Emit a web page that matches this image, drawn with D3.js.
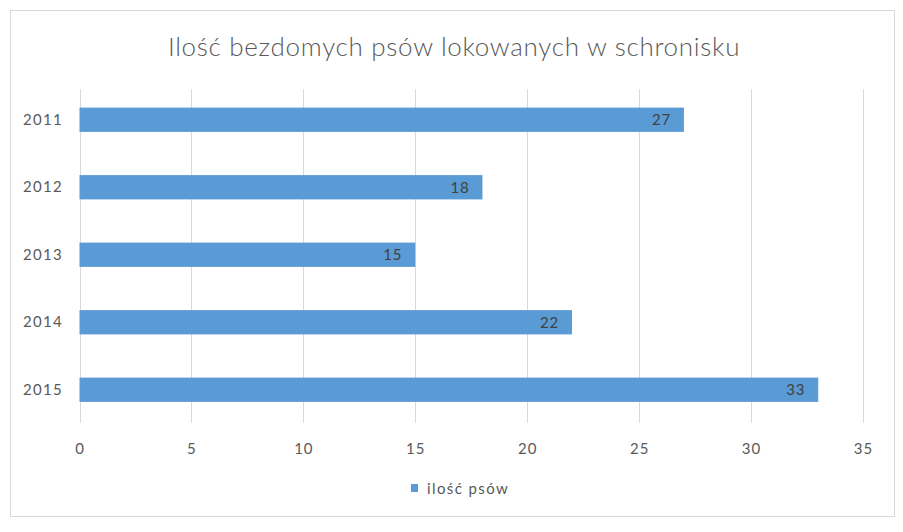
<!DOCTYPE html>
<html><head><meta charset="utf-8">
<script src="https://cdn.jsdelivr.net/npm/d3@7"></script>
<style>body{margin:0;background:#fff;} text{font-family:Lato, "Open Sans", sans-serif;}</style>
</head><body>
<svg id="c" width="903" height="532"></svg>
<script>
const title = "Ilość bezdomych psów lokowanych w schronisku";
const categories = ["2011","2012","2013","2014","2015"];
const values = [27,18,15,22,33];
const seriesName = "ilość psów";
const xTicks = [0,5,10,15,20,25,30,35];

const svg = d3.select("#c");
svg.append("rect").attr("x",10.5).attr("y",10.5).attr("width",884).attr("height",506)
  .attr("fill","#fff").attr("stroke","#d9d9d9");

const x = d3.scaleLinear().domain([0,35]).range([79.5,863]);
const y = d3.scaleBand().domain(categories).range([86,423.5]).paddingInner(0.64).paddingOuter(0.32);

svg.append("text").attr("x",454).attr("y",56).attr("text-anchor","middle")
  .attr("font-size",26).attr("font-weight",300).attr("letter-spacing",0.7)
  .attr("fill","#595959").text(title);

const xAxis = svg.append("g").attr("transform","translate(0,423)")
  .call(d3.axisBottom(x).tickValues(xTicks).tickSize(0).tickPadding(20));
xAxis.select(".domain").remove();
xAxis.selectAll("text").attr("font-size",15).attr("letter-spacing",1).attr("fill","#595959").style("font-family","Lato, sans-serif");

svg.append("g").selectAll("line").data(xTicks).join("line")
  .attr("x1",d=>Math.round(x(d))+0.5).attr("x2",d=>Math.round(x(d))+0.5)
  .attr("y1",89).attr("y2",423).attr("stroke","#d9d9d9");

const yAxis = svg.append("g").attr("transform","translate(79,0)")
  .call(d3.axisLeft(y).tickSize(0).tickPadding(16));
yAxis.select(".domain").remove();
yAxis.selectAll("text").attr("font-size",15).attr("letter-spacing",1.3).attr("fill","#595959").style("font-family","Lato, sans-serif");

svg.append("g").selectAll("rect").data(values).join("rect")
  .attr("x",x(0)).attr("y",(d,i)=>y(categories[i]))
  .attr("width",d=>x(d)-x(0)).attr("height",y.bandwidth()).attr("fill","#5b9bd5");

svg.append("g").selectAll("text").data(values).join("text")
  .attr("x",d=>x(d)-13).attr("y",(d,i)=>y(categories[i])+y.bandwidth()/2+5.5)
  .attr("text-anchor","end").attr("font-size",15).attr("letter-spacing",0.8).attr("fill","#404040").text(d=>d);

const lg = svg.append("g");
lg.append("rect").attr("x",411).attr("y",484).attr("width",7).attr("height",8).attr("fill","#5b9bd5");
lg.append("text").attr("x",427).attr("y",494).attr("font-size",15).attr("letter-spacing",1.4).attr("fill","#595959").text(seriesName);
</script>
</body></html>
